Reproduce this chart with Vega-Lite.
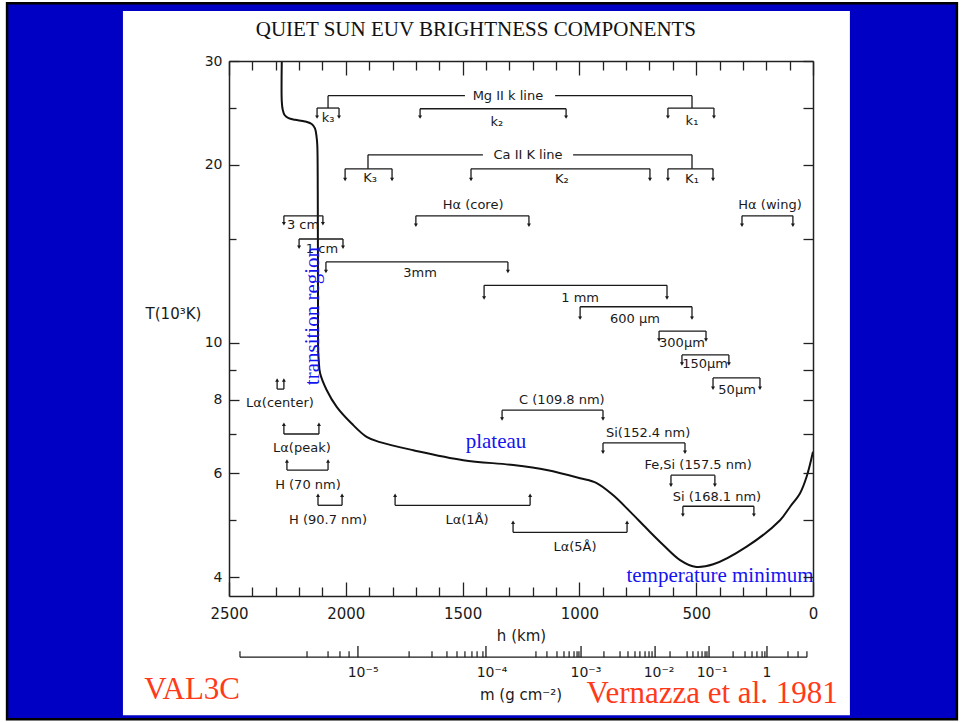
{
  "$schema": "https://vega.github.io/schema/vega-lite/v6.json",
  "width": 584,
  "height": 535,
  "autosize": {"type": "none"},
  "padding": {"left": 229, "top": 61, "right": 150, "bottom": 126},
  "background": "white",
  "config": {
    "view": {"stroke": null},
    "axis": {"zindex": 1, "grid": false, "domainColor": "#222222", "domainWidth": 1.5, "tickColor": "#222222", "tickWidth": 1.3, "labelFont": "DejaVu Sans", "labelFontSize": 15, "labelColor": "#1a1a1a", "titleFont": "DejaVu Sans", "titleFontSize": 15, "titleFontWeight": "normal", "titleColor": "#1a1a1a", "labelFlush": false, "labelOverlap": false}
  },
  "datasets": {
    "frame": [
      {"part": "slide", "h1": 3450, "h2": -616, "T1": 37.6, "T2": 2.30},
      {"part": "panel", "h1": 2954, "h2": -158, "T1": 36.46, "T2": 2.336}
    ],
    "curve": [
      {"i": 1, "h": 2274, "T": 30}, {"i": 2, "h": 2274, "T": 25.6}, {"i": 3, "h": 2270, "T": 24.8}, {"i": 4, "h": 2262, "T": 24.3},
      {"i": 5, "h": 2245, "T": 24.0}, {"i": 6, "h": 2217, "T": 23.85}, {"i": 7, "h": 2175, "T": 23.7}, {"i": 8, "h": 2146, "T": 23.46},
      {"i": 9, "h": 2132, "T": 23.07}, {"i": 10, "h": 2125, "T": 22.3}, {"i": 11, "h": 2122, "T": 21.6}, {"i": 12, "h": 2120, "T": 18},
      {"i": 13, "h": 2119, "T": 12}, {"i": 14, "h": 2118, "T": 9.6}, {"i": 15, "h": 2116, "T": 9.34}, {"i": 16, "h": 2110, "T": 8.87},
      {"i": 17, "h": 2082, "T": 8.31}, {"i": 18, "h": 2039, "T": 7.78}, {"i": 19, "h": 1975, "T": 7.29}, {"i": 20, "h": 1911, "T": 6.92},
      {"i": 21, "h": 1854, "T": 6.78}, {"i": 22, "h": 1711, "T": 6.57}, {"i": 23, "h": 1497, "T": 6.32}, {"i": 24, "h": 1283, "T": 6.20},
      {"i": 25, "h": 1140, "T": 6.08}, {"i": 26, "h": 997, "T": 5.89}, {"i": 27, "h": 926, "T": 5.78}, {"i": 28, "h": 855, "T": 5.51},
      {"i": 29, "h": 783, "T": 5.17}, {"i": 30, "h": 712, "T": 4.84}, {"i": 31, "h": 641, "T": 4.54}, {"i": 32, "h": 569, "T": 4.28},
      {"i": 33, "h": 505, "T": 4.17}, {"i": 34, "h": 427, "T": 4.21}, {"i": 35, "h": 284, "T": 4.51}, {"i": 36, "h": 141, "T": 5.00},
      {"i": 37, "h": 98, "T": 5.27}, {"i": 38, "h": 56, "T": 5.55}, {"i": 39, "h": 27, "T": 5.93}, {"i": 40, "h": 0, "T": 6.53}
    ],
    "brackets": [
      {"name": "k3", "h1": 2123, "h2": 2029, "T": 24.97, "Tend": 24.1, "dir": "down"},
      {"name": "k2", "h1": 1682, "h2": 1057, "T": 24.9, "Tend": 24.1, "dir": "down"},
      {"name": "k1", "h1": 621, "h2": 424, "T": 24.97, "Tend": 24.1, "dir": "down"},
      {"name": "K3", "h1": 2003, "h2": 1802, "T": 19.7, "Tend": 18.9, "dir": "down"},
      {"name": "K2", "h1": 1464, "h2": 698, "T": 19.7, "Tend": 18.9, "dir": "down"},
      {"name": "K1", "h1": 621, "h2": 428, "T": 19.7, "Tend": 18.9, "dir": "down"},
      {"name": "Ha core", "h1": 1700, "h2": 1216, "T": 16.4, "Tend": 15.8, "dir": "down"},
      {"name": "Ha wing", "h1": 304, "h2": 86, "T": 16.4, "Tend": 15.8, "dir": "down"},
      {"name": "3 cm", "h1": 2265, "h2": 2098, "T": 16.4, "Tend": 15.9, "dir": "down"},
      {"name": "1 cm", "h1": 2200, "h2": 2012, "T": 14.98, "Tend": 14.5, "dir": "down"},
      {"name": "3 mm", "h1": 2085, "h2": 1306, "T": 13.7, "Tend": 13.2, "dir": "down"},
      {"name": "1 mm", "h1": 1408, "h2": 625, "T": 12.5, "Tend": 11.9, "dir": "down"},
      {"name": "600 um", "h1": 997, "h2": 518, "T": 11.5, "Tend": 11.0, "dir": "down"},
      {"name": "300 um", "h1": 659, "h2": 458, "T": 10.46, "Tend": 10.1, "dir": "down"},
      {"name": "150 um", "h1": 561, "h2": 360, "T": 9.53, "Tend": 9.2, "dir": "down"},
      {"name": "50 um", "h1": 428, "h2": 227, "T": 8.71, "Tend": 8.37, "dir": "down"},
      {"name": "C 109.8", "h1": 1331, "h2": 899, "T": 7.68, "Tend": 7.42, "dir": "down"},
      {"name": "Si 152.4", "h1": 899, "h2": 548, "T": 6.76, "Tend": 6.52, "dir": "down"},
      {"name": "Fe,Si 157.5", "h1": 608, "h2": 420, "T": 5.96, "Tend": 5.73, "dir": "down"},
      {"name": "Si 168.1", "h1": 557, "h2": 253, "T": 5.28, "Tend": 5.10, "dir": "down"},
      {"name": "La 1A", "h1": 1789, "h2": 1211, "T": 5.30, "Tend": 5.51, "dir": "up"},
      {"name": "La 5A", "h1": 1284, "h2": 796, "T": 4.77, "Tend": 4.96, "dir": "up"},
      {"name": "La center", "h1": 2294, "h2": 2265, "T": 8.34, "Tend": 8.64, "dir": "up"},
      {"name": "La peak", "h1": 2265, "h2": 2115, "T": 7.00, "Tend": 7.27, "dir": "up"},
      {"name": "H 70", "h1": 2252, "h2": 2076, "T": 6.08, "Tend": 6.30, "dir": "up"},
      {"name": "H 90.7", "h1": 2119, "h2": 2016, "T": 5.30, "Tend": 5.51, "dir": "up"}
    ],
    "connectors": [
      {"h": 2076, "h2": 1490, "T": 26.2, "T2": 26.2}, {"h": 1104, "h2": 518, "T": 26.2, "T2": 26.2},
      {"h": 2076, "h2": 2076, "T": 26.2, "T2": 24.97}, {"h": 518, "h2": 518, "T": 26.2, "T2": 24.97},
      {"h": 1905, "h2": 1413, "T": 20.8, "T2": 20.8}, {"h": 1027, "h2": 518, "T": 20.8, "T2": 20.8},
      {"h": 1905, "h2": 1905, "T": 20.8, "T2": 19.7}, {"h": 518, "h2": 518, "T": 20.8, "T2": 19.7}
    ],
    "labels": [
      {"label": "Mg II k line", "h": 1306, "T": 26.2}, {"label": "Ca II K line", "h": 1220, "T": 20.8},
      {"label": "k₃", "h": 2076, "T": 24.0}, {"label": "k₂", "h": 1353, "T": 23.6}, {"label": "k₁", "h": 518, "T": 23.7},
      {"label": "K₃", "h": 1896, "T": 19.0}, {"label": "K₂", "h": 1075, "T": 18.9}, {"label": "K₁", "h": 518, "T": 18.9},
      {"label": "Hα (core)", "h": 1455, "T": 17.1}, {"label": "Hα (wing)", "h": 184, "T": 17.1},
      {"label": "3 cm", "h": 2183, "T": 15.8}, {"label": "1 cm", "h": 2102, "T": 14.4}, {"label": "3mm", "h": 1682, "T": 13.1},
      {"label": "1 mm", "h": 997, "T": 11.9}, {"label": "600 μm", "h": 762, "T": 10.96}, {"label": "300μm", "h": 561, "T": 9.98},
      {"label": "150μm", "h": 462, "T": 9.2}, {"label": "50μm", "h": 325, "T": 8.31},
      {"label": "C (109.8 nm)", "h": 1075, "T": 7.99}, {"label": "Si(152.4 nm)", "h": 706, "T": 7.02},
      {"label": "Fe,Si (157.5 nm)", "h": 492, "T": 6.2}, {"label": "Si (168.1 nm)", "h": 411, "T": 5.47},
      {"label": "Lα(1Å)", "h": 1481, "T": 5.0}, {"label": "Lα(5Å)", "h": 1019, "T": 4.5},
      {"label": "Lα(center)", "h": 2282, "T": 7.9}, {"label": "Lα(peak)", "h": 2188, "T": 6.63},
      {"label": "H (70 nm)", "h": 2162, "T": 5.73}, {"label": "H (90.7 nm)", "h": 2076, "T": 5.0}
    ],
    "massTicks": [
      {"h": 2453, "kind": "minor"}, {"h": 2166, "kind": "minor"}, {"h": 2076, "kind": "minor"}, {"h": 2025, "kind": "minor"}, {"h": 1986, "kind": "minor"}, {"h": 1948, "kind": "major"},
      {"h": 1729, "kind": "minor"}, {"h": 1631, "kind": "minor"}, {"h": 1567, "kind": "minor"}, {"h": 1524, "kind": "minor"}, {"h": 1490, "kind": "minor"}, {"h": 1460, "kind": "minor"}, {"h": 1438, "kind": "minor"}, {"h": 1413, "kind": "minor"}, {"h": 1400, "kind": "major"},
      {"h": 1186, "kind": "minor"}, {"h": 1139, "kind": "minor"}, {"h": 1096, "kind": "minor"}, {"h": 1066, "kind": "minor"}, {"h": 1044, "kind": "minor"}, {"h": 1023, "kind": "minor"}, {"h": 1010, "kind": "minor"}, {"h": 1002, "kind": "minor"}, {"h": 993, "kind": "major"},
      {"h": 895, "kind": "minor"}, {"h": 826, "kind": "minor"}, {"h": 792, "kind": "minor"}, {"h": 762, "kind": "minor"}, {"h": 741, "kind": "minor"}, {"h": 719, "kind": "minor"}, {"h": 702, "kind": "minor"}, {"h": 689, "kind": "minor"}, {"h": 676, "kind": "major"},
      {"h": 612, "kind": "minor"}, {"h": 539, "kind": "minor"}, {"h": 514, "kind": "minor"}, {"h": 492, "kind": "minor"}, {"h": 475, "kind": "minor"}, {"h": 462, "kind": "minor"}, {"h": 454, "kind": "minor"}, {"h": 445, "kind": "major"},
      {"h": 342, "kind": "minor"}, {"h": 291, "kind": "minor"}, {"h": 261, "kind": "minor"}, {"h": 240, "kind": "minor"}, {"h": 218, "kind": "minor"}, {"h": 206, "kind": "minor"}, {"h": 197, "kind": "major"},
      {"h": 107, "kind": "minor"}, {"h": 64, "kind": "minor"}, {"h": 26, "kind": "minor"}
    ],
    "massLabels": [
      {"label": "10⁻⁵", "h": 1926}, {"label": "10⁻⁴", "h": 1374}, {"label": "10⁻³", "h": 972},
      {"label": "10⁻²", "h": 659}, {"label": "10⁻¹", "h": 432}, {"label": "1", "h": 197}
    ],
    "notesBlue": [
      {"note": "plateau", "h": 1357, "T": 6.63},
      {"note": "temperature minimum", "h": 398, "T": 3.93}
    ],
    "notesRed": [
      {"note": "VAL3C", "h": 2658, "T": 2.488},
      {"note": "Vernazza et al. 1981", "h": 432, "T": 2.452}
    ]
  },
  "resolve": {"axis": {"x": "independent", "y": "independent"}},
  "layer": [
    {
      "data": {"name": "frame"},
      "transform": [{"filter": "datum.part === 'slide'"}],
      "mark": {"type": "rect", "fill": "#0000c4", "stroke": "#000000", "strokeWidth": 2.5},
      "encoding": {
        "x": {"field": "h1", "type": "quantitative", "scale": {"domain": [0, 2500], "reverse": true, "nice": false, "zero": false}, "axis": null},
        "x2": {"field": "h2"},
        "y": {"field": "T1", "type": "quantitative", "scale": {"type": "log", "domain": [3.72, 30], "nice": false}, "axis": null},
        "y2": {"field": "T2"}
      }
    },
    {
      "data": {"name": "frame"},
      "transform": [{"filter": "datum.part === 'panel'"}],
      "mark": {"type": "rect", "fill": "#ffffff"},
      "encoding": {
        "x": {"field": "h1", "type": "quantitative", "scale": {"domain": [0, 2500], "reverse": true, "nice": false, "zero": false}, "axis": null},
        "x2": {"field": "h2"},
        "y": {"field": "T1", "type": "quantitative", "scale": {"type": "log", "domain": [3.72, 30], "nice": false}, "axis": null},
        "y2": {"field": "T2"}
      }
    },
    {
      "data": {"values": [{"title": "QUIET SUN EUV BRIGHTNESS COMPONENTS", "h": 1443, "T": 33.07}]},
      "mark": {"type": "text", "font": "Liberation Serif", "fontSize": 21, "color": "#111111", "align": "center", "baseline": "alphabetic"},
      "encoding": {
        "x": {"field": "h", "type": "quantitative", "scale": {"domain": [0, 2500], "reverse": true, "nice": false, "zero": false}, "axis": null},
        "y": {"field": "T", "type": "quantitative", "scale": {"type": "log", "domain": [3.72, 30], "nice": false}, "axis": null},
        "text": {"field": "title"}
      }
    },
    {
      "data": {"name": "curve"},
      "mark": {"type": "line", "color": "#111111", "strokeWidth": 2, "interpolate": "catmull-rom"},
      "encoding": {
        "x": {"field": "h", "type": "quantitative", "scale": {"domain": [0, 2500], "reverse": true, "nice": false, "zero": false},
          "axis": {"orient": "bottom", "zindex": 2, "values": [0, 500, 1000, 1500, 2000, 2500], "format": "d", "tickSize": -14, "labelPadding": 24, "title": "h  (km)", "titlePadding": 7}},
        "y": {"field": "T", "type": "quantitative", "scale": {"type": "log", "domain": [3.72, 30], "nice": false},
          "axis": {"orient": "left", "zindex": 2, "values": [4, 6, 8, 10, 20, 30], "format": "d", "tickSize": -10, "labelPadding": 17, "labelFontSize": 14, "title": "T(10³K)", "titleFontSize": 15, "titleAngle": 0, "titleX": -56, "titleY": 252, "titleAlign": "center", "titleBaseline": "middle"}},
        "order": {"field": "i", "type": "quantitative"}
      }
    },
    {
      "data": {"name": "brackets"},
      "mark": {"type": "rule", "color": "#1a1a1a", "strokeWidth": 1.3},
      "encoding": {
        "x": {"field": "h1", "type": "quantitative", "scale": {"domain": [0, 2500], "reverse": true, "nice": false, "zero": false},
          "axis": {"orient": "top", "zindex": 2, "values": [0, 500, 1000, 1500, 2000, 2500], "tickSize": -14, "labels": false, "title": null}},
        "x2": {"field": "h2"},
        "y": {"field": "T", "type": "quantitative", "scale": {"type": "log", "domain": [3.72, 30], "nice": false},
          "axis": {"orient": "right", "zindex": 2, "values": [4, 5, 6, 7, 8, 9, 10, 15, 20, 25, 30], "tickSize": -10, "labels": false, "title": null}}
      }
    },
    {
      "data": {"name": "brackets"},
      "transform": [{"fold": ["h1", "h2"], "as": ["end", "hx"]}],
      "mark": {"type": "rule", "color": "#1a1a1a", "strokeWidth": 1.3},
      "encoding": {
        "x": {"field": "hx", "type": "quantitative", "scale": {"domain": [0, 2500], "reverse": true, "nice": false, "zero": false},
          "axis": {"orient": "bottom", "zindex": 2, "values": [100, 200, 300, 400, 600, 700, 800, 900, 1100, 1200, 1300, 1400, 1600, 1700, 1800, 1900, 2100, 2200, 2300, 2400], "tickSize": -9, "labels": false, "domain": false, "title": null}},
        "y": {"field": "T", "type": "quantitative", "scale": {"type": "log", "domain": [3.72, 30], "nice": false},
          "axis": {"orient": "left", "zindex": 2, "values": [5, 7, 9, 15, 25], "tickSize": -7, "labels": false, "domain": false, "title": null}},
        "y2": {"field": "Tend"}
      }
    },
    {
      "data": {"name": "brackets"},
      "transform": [{"fold": ["h1", "h2"], "as": ["end", "hx"]}],
      "mark": {"type": "point", "filled": true, "color": "#1a1a1a", "size": 16, "opacity": 1},
      "encoding": {
        "x": {"field": "hx", "type": "quantitative", "scale": {"domain": [0, 2500], "reverse": true, "nice": false, "zero": false},
          "axis": {"orient": "top", "zindex": 2, "values": [100, 200, 300, 400, 600, 700, 800, 900, 1100, 1200, 1300, 1400, 1600, 1700, 1800, 1900, 2100, 2200, 2300, 2400], "tickSize": -9, "labels": false, "domain": false, "title": null}},
        "y": {"field": "Tend", "type": "quantitative", "scale": {"type": "log", "domain": [3.72, 30], "nice": false}, "axis": null},
        "shape": {"field": "dir", "type": "nominal", "scale": {"domain": ["down", "up"], "range": ["triangle-down", "triangle-up"]}, "legend": null}
      }
    },
    {
      "data": {"name": "connectors"},
      "mark": {"type": "rule", "color": "#1a1a1a", "strokeWidth": 1.3},
      "encoding": {
        "x": {"field": "h", "type": "quantitative", "scale": {"domain": [0, 2500], "reverse": true, "nice": false, "zero": false}, "axis": null},
        "x2": {"field": "h2"},
        "y": {"field": "T", "type": "quantitative", "scale": {"type": "log", "domain": [3.72, 30], "nice": false}, "axis": null},
        "y2": {"field": "T2"}
      }
    },
    {
      "data": {"name": "labels"},
      "mark": {"type": "text", "font": "DejaVu Sans", "fontSize": 13, "color": "#1a1a1a", "align": "center", "baseline": "middle"},
      "encoding": {
        "x": {"field": "h", "type": "quantitative", "scale": {"domain": [0, 2500], "reverse": true, "nice": false, "zero": false}, "axis": null},
        "y": {"field": "T", "type": "quantitative", "scale": {"type": "log", "domain": [3.72, 30], "nice": false}, "axis": null},
        "text": {"field": "label"}
      }
    },
    {
      "data": {"values": [{"axis": "m"}]},
      "mark": {"type": "rule", "color": "#1a1a1a", "strokeWidth": 1.3},
      "encoding": {
        "x": {"datum": 2453, "type": "quantitative", "scale": {"domain": [0, 2500], "reverse": true, "nice": false, "zero": false}, "axis": null},
        "x2": {"datum": 26},
        "y": {"datum": 2.93, "type": "quantitative", "scale": {"type": "log", "domain": [3.72, 30], "nice": false}, "axis": null}
      }
    },
    {
      "data": {"name": "massTicks"},
      "transform": [{"filter": "datum.kind === 'minor'"}],
      "mark": {"type": "rule", "color": "#1a1a1a", "strokeWidth": 1.2},
      "encoding": {
        "x": {"field": "h", "type": "quantitative", "scale": {"domain": [0, 2500], "reverse": true, "nice": false, "zero": false}, "axis": null},
        "y": {"datum": 2.93, "type": "quantitative", "scale": {"type": "log", "domain": [3.72, 30], "nice": false}, "axis": null},
        "y2": {"datum": 3.0}
      }
    },
    {
      "data": {"name": "massTicks"},
      "transform": [{"filter": "datum.kind === 'major'"}],
      "mark": {"type": "rule", "color": "#1a1a1a", "strokeWidth": 1.3},
      "encoding": {
        "x": {"field": "h", "type": "quantitative", "scale": {"domain": [0, 2500], "reverse": true, "nice": false, "zero": false}, "axis": null},
        "y": {"datum": 2.93, "type": "quantitative", "scale": {"type": "log", "domain": [3.72, 30], "nice": false}, "axis": null},
        "y2": {"datum": 3.06}
      }
    },
    {
      "data": {"name": "massLabels"},
      "mark": {"type": "text", "font": "DejaVu Sans", "fontSize": 14, "color": "#1a1a1a", "align": "center", "baseline": "alphabetic"},
      "encoding": {
        "x": {"field": "h", "type": "quantitative", "scale": {"domain": [0, 2500], "reverse": true, "nice": false, "zero": false}, "axis": null},
        "y": {"datum": 2.71, "type": "quantitative", "scale": {"type": "log", "domain": [3.72, 30], "nice": false}, "axis": null},
        "text": {"field": "label"}
      }
    },
    {
      "data": {"values": [{"title": "m (g cm⁻²)", "h": 1250, "T": 2.477}]},
      "mark": {"type": "text", "font": "DejaVu Sans", "fontSize": 15, "color": "#1a1a1a", "align": "center", "baseline": "alphabetic"},
      "encoding": {
        "x": {"field": "h", "type": "quantitative", "scale": {"domain": [0, 2500], "reverse": true, "nice": false, "zero": false}, "axis": null},
        "y": {"field": "T", "type": "quantitative", "scale": {"type": "log", "domain": [3.72, 30], "nice": false}, "axis": null},
        "text": {"field": "title"}
      }
    },
    {
      "data": {"name": "notesBlue"},
      "mark": {"type": "text", "font": "Liberation Serif", "fontSize": 21, "color": "#1414f0", "align": "center", "baseline": "alphabetic"},
      "encoding": {
        "x": {"field": "h", "type": "quantitative", "scale": {"domain": [0, 2500], "reverse": true, "nice": false, "zero": false}, "axis": null},
        "y": {"field": "T", "type": "quantitative", "scale": {"type": "log", "domain": [3.72, 30], "nice": false}, "axis": null},
        "text": {"field": "note"}
      }
    },
    {
      "data": {"values": [{"note": "transition region", "h": 2140, "T": 11.09}]},
      "mark": {"type": "text", "font": "Liberation Serif", "fontSize": 21, "color": "#1414f0", "align": "center", "baseline": "middle", "angle": 270},
      "encoding": {
        "x": {"field": "h", "type": "quantitative", "scale": {"domain": [0, 2500], "reverse": true, "nice": false, "zero": false}, "axis": null},
        "y": {"field": "T", "type": "quantitative", "scale": {"type": "log", "domain": [3.72, 30], "nice": false}, "axis": null},
        "text": {"field": "note"}
      }
    },
    {
      "data": {"name": "notesRed"},
      "mark": {"type": "text", "font": "Liberation Serif", "fontSize": 31, "color": "#ff3a1a", "align": "center", "baseline": "alphabetic"},
      "encoding": {
        "x": {"field": "h", "type": "quantitative", "scale": {"domain": [0, 2500], "reverse": true, "nice": false, "zero": false}, "axis": null},
        "y": {"field": "T", "type": "quantitative", "scale": {"type": "log", "domain": [3.72, 30], "nice": false}, "axis": null},
        "text": {"field": "note"}
      }
    }
  ]
}
